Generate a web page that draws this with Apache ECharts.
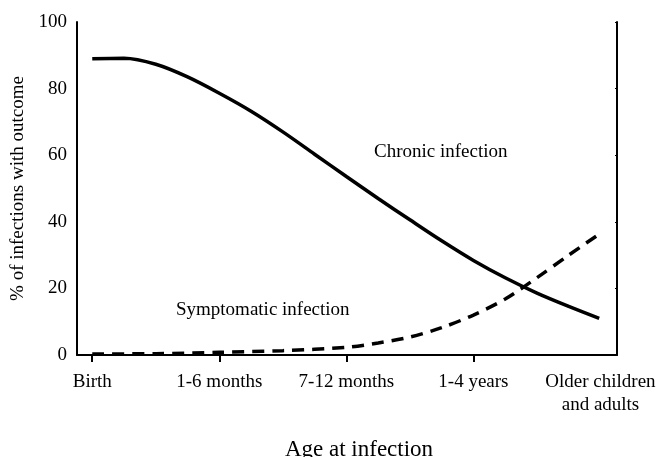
<!DOCTYPE html>
<html><head><meta charset="utf-8">
<script src="https://cdn.jsdelivr.net/npm/echarts@6/dist/echarts.min.js"></script>
<style>html,body{margin:0;padding:0;background:#fff}#c{width:657px;height:457px}</style>
</head><body><div id="c"></div>
<script>
const categories = ['Birth', '1-6 months', '7-12 months', '1-4 years', 'Older children\nand adults'];
const yTicks = [0, 20, 40, 60, 80, 100];
// x positions in category units (0 = Birth ... 4 = Older children and adults)
const chronicX = [0, 0.25, 0.5, 0.75, 1.0, 1.25, 1.5, 1.75, 2.0, 2.25, 2.5, 2.75, 3.0, 3.25, 3.5, 3.75, 3.99];
const chronicY = [89.0, 89.1, 87.3, 83.5, 78.6, 73.2, 67.0, 60.3, 53.6, 47.0, 40.6, 34.3, 28.4, 23.2, 18.6, 14.6, 11.0];
const symptX = [0, 0.5, 1.0, 1.5, 2.0, 2.25, 2.5, 2.75, 3.0, 3.25, 3.5, 3.75, 3.99];
const symptY = [0.3, 0.4, 0.8, 1.3, 2.3, 3.6, 5.4, 8.2, 12.0, 16.8, 23.2, 30.0, 36.3];

const serif = '"Liberation Serif","Times New Roman",serif';
const pair = (xs, ys) => xs.map((x, i) => [x, ys[i]]);

const chart = echarts.init(document.getElementById('c'));
chart.setOption({
  animation: false,
  backgroundColor: '#fff',
  grid: { left: 77, right: 40, top: 22, bottom: 102, containLabel: false, outerBoundsMode: 'none' },
  xAxis: {
    type: 'value', min: -0.12, max: 4.13,
    splitLine: { show: false },
    axisLine: { show: true, onZero: false, lineStyle: { color: '#000', width: 2 } },
    axisTick: { show: true, customValues: [0, 1, 2, 3], length: 7, lineStyle: { color: '#000', width: 2 } },
    axisLabel: {
      customValues: [0, 1, 2, 3, 4], margin: 16, color: '#000',
      fontFamily: serif, fontSize: 19, lineHeight: 23,
      formatter: v => categories[Math.round(v)]
    },
    name: 'Age at infection', nameLocation: 'middle', nameGap: 83,
    nameTextStyle: { fontFamily: serif, fontSize: 23, color: '#000', padding: [0, 0, 0, 24] }
  },
  yAxis: [{
    type: 'value', min: 0, max: 100, interval: 20,
    splitLine: { show: false },
    axisLine: { show: true, onZero: false, lineStyle: { color: '#000', width: 2 } },
    axisTick: { show: false },
    axisLabel: { color: '#000', fontFamily: serif, fontSize: 19, margin: 10,
      formatter: v => String(yTicks[yTicks.indexOf(v)]) },
    name: '% of infections with outcome', nameLocation: 'middle', nameGap: 47,
    nameTextStyle: { fontFamily: serif, fontSize: 19, color: '#000' }
  }, {
    type: 'value', min: 0, max: 100, interval: 20, position: 'right',
    splitLine: { show: false },
    axisLine: { show: true, onZero: false, lineStyle: { color: '#000', width: 2 } },
    axisTick: { show: true, inside: true, length: 2, lineStyle: { color: '#000', width: 1 } },
    axisLabel: { show: false }
  }],
  graphic: [
    { type: 'text', left: 374, top: 143, style: { text: 'Chronic infection', font: '19px ' + serif, fill: '#000' } },
    { type: 'text', left: 176, top: 301, style: { text: 'Symptomatic infection', font: '19px ' + serif, fill: '#000' } }
  ],
  series: [{
    type: 'line', data: pair(chronicX, chronicY), smooth: 0.3, showSymbol: false,
    lineStyle: { color: '#000', width: 3.5 }
  }, {
    type: 'line', data: pair(symptX, symptY), smooth: 0.3, showSymbol: false,
    lineStyle: { color: '#000', width: 3.5, type: [12, 8] }
  }]
});
</script></body></html>
